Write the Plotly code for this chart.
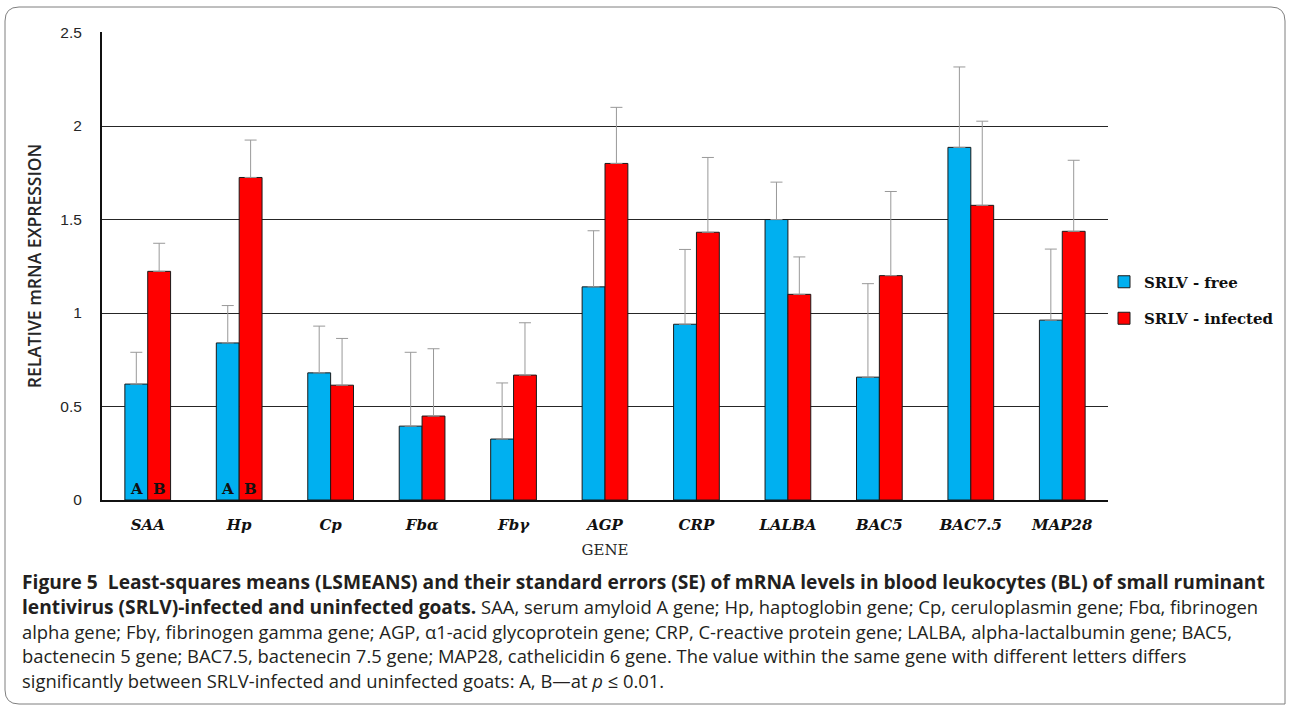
import plotly.graph_objects as go

genes = ["SAA", "Hp", "Cp", "Fbα", "Fbγ", "AGP", "CRP", "LALBA", "BAC5", "BAC7.5", "MAP28"]
free_mean = [0.62, 0.84, 0.68, 0.395, 0.326, 1.14, 0.94, 1.50, 0.657, 1.886, 0.962]
free_se = [0.17, 0.20, 0.25, 0.395, 0.30, 0.30, 0.40, 0.20, 0.50, 0.43, 0.38]
inf_mean = [1.223, 1.725, 0.614, 0.449, 0.668, 1.80, 1.432, 1.10, 1.20, 1.576, 1.437]
inf_se = [0.15, 0.20, 0.25, 0.36, 0.28, 0.30, 0.40, 0.20, 0.45, 0.45, 0.38]
free_letters = ["A", "A", "", "", "", "", "", "", "", "", ""]
inf_letters = ["B", "B", "", "", "", "", "", "", "", "", ""]
y_ticks = [0, 0.5, 1, 1.5, 2, 2.5]

BOLD = '<span style="font-size:19.2px;font-weight:bold">'
caption_lines = [
    BOLD + "Figure 5  Least-squares means (LSMEANS) and their standard errors (SE) of mRNA levels in blood leukocytes (BL) of small ruminant</span>",
    BOLD + "lentivirus (SRLV)-infected and uninfected goats.</span> SAA, serum amyloid A gene; Hp, haptoglobin gene; Cp, ceruloplasmin gene; Fbα, fibrinogen",
    "alpha gene; Fbγ, fibrinogen gamma gene; AGP, α1-acid glycoprotein gene; CRP, C-reactive protein gene; LALBA, alpha-lactalbumin gene; BAC5,",
    "bactenecin 5 gene; BAC7.5, bactenecin 7.5 gene; MAP28, cathelicidin 6 gene. The value within the same gene with different letters differs",
    "significantly between SRLV-infected and uninfected goats: A, B—at <i>p</i> ≤ 0.01.",
]

W, H = 1290, 708
L, R, T, B = 102, 1108, 32, 500


def px(x):
    return (x - L) / (R - L)


def py(y):
    return (B - y) / (B - T)


fig = go.Figure()
fig.add_trace(go.Bar(
    x=genes, y=free_mean, name="SRLV - free", legendgroup="a",
    marker=dict(color="#00B0F0", line=dict(color="#1a1a1a", width=1)),
    error_y=dict(type="data", symmetric=False, array=free_se, arrayminus=[0] * len(free_se),
                 color="#999999", thickness=1, width=6),
))
fig.add_trace(go.Bar(
    x=genes, y=inf_mean, name="SRLV - infected", legendgroup="b",
    marker=dict(color="#FF0000", line=dict(color="#1a1a1a", width=1)),
    error_y=dict(type="data", symmetric=False, array=inf_se, arrayminus=[0] * len(inf_se),
                 color="#999999", thickness=1, width=6),
))

annotations = []
for g, lf, li in zip(genes, free_letters, inf_letters):
    for lab, sh in ((lf, -11.5), (li, 11.5)):
        if lab:
            annotations.append(dict(
                x=g, y=0, xref="x", yref="y", text="<b>" + lab + "</b>", showarrow=False,
                xshift=sh, yanchor="bottom", yshift=0,
                font=dict(family="DejaVu Serif", size=15, color="#111111"),
            ))

cap_y = [581, 606, 631, 655, 680]
for txt, yy in zip(caption_lines, cap_y):
    annotations.append(dict(
        x=px(20), y=py(yy), xref="paper", yref="paper", text=txt, showarrow=False,
        xanchor="left", yanchor="middle", align="left",
        font=dict(family="Open Sans", size=18.4, color="#231f20"),
    ))

# rounded frame
x0, x1, y0, y1 = 5, 1285, 7, 704
r = 14
path = (f"M {px(x0 + r)},{py(y0)} L {px(x1 - r)},{py(y0)} "
        f"Q {px(x1)},{py(y0)} {px(x1)},{py(y0 + r)} "
        f"L {px(x1)},{py(y1)} L {px(x0 + r)},{py(y1)} "
        f"Q {px(x0)},{py(y1)} {px(x0)},{py(y1 - r)} "
        f"L {px(x0)},{py(y0 + r)} Q {px(x0)},{py(y0)} {px(x0 + r)},{py(y0)} Z")

fig.update_layout(
    width=W, height=H,
    margin=dict(l=L, r=W - R, t=T, b=H - B, autoexpand=False),
    paper_bgcolor="white", plot_bgcolor="white",
    barmode="group", bargap=0.5, bargroupgap=0,
    showlegend=True,
    legend=dict(x=px(1104), y=py(300), xanchor="left", yanchor="middle",
                font=dict(family="DejaVu Serif", size=15, color="#111111", weight="bold"),
                tracegroupgap=14, bgcolor="rgba(0,0,0,0)"),
    annotations=annotations,
    shapes=[dict(type="path", xref="paper", yref="paper", path=path,
                 line=dict(color="#7f7f7f", width=1), layer="below")],
    font=dict(family="Open Sans"),
)
fig.update_xaxes(
    showline=True, linecolor="#111111", linewidth=2, showgrid=False,
    ticks="", tickfont=dict(family="DejaVu Serif", size=15, color="#111111",
                            weight="bold", style="italic"),
    ticklabelstandoff=10,
    title=dict(text="GENE", font=dict(family="DejaVu Serif", size=15, color="#262626"), standoff=11),
)
fig.update_yaxes(
    range=[0, 2.503], tickvals=y_ticks, ticktext=["0", "0.5", "1", "1.5", "2", "2.5"],
    showline=True, linecolor="#111111", linewidth=2,
    showgrid=True, gridcolor="#262626", gridwidth=1, zeroline=False,
    ticks="", tickfont=dict(family="Liberation Sans", size=15.5, color="#262626"),
    ticklabelstandoff=15,
    title=dict(text="RELATIVE mRNA EXPRESSION",
               font=dict(family="Open Sans", size=17.5, color="#262626", weight=600), standoff=14),
)

fig.write_html("out.html", config={"displayModeBar": False},
               post_script="document.body.style.margin='0';document.body.style.padding='0';")
